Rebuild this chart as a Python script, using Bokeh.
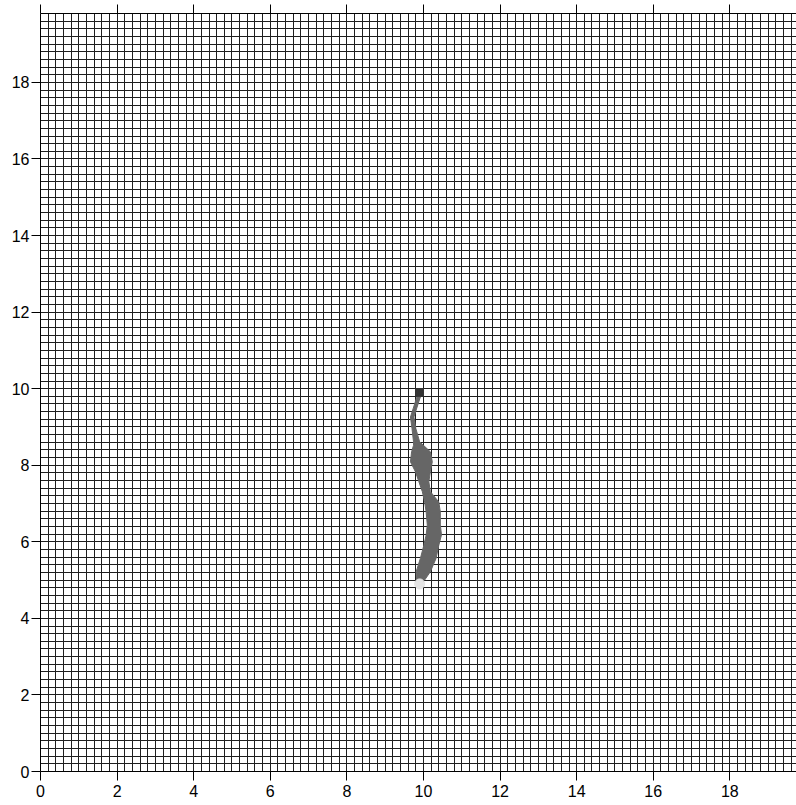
from bokeh.plotting import figure
from bokeh.models import Range1d, SingleIntervalTicker, LinearAxis
from bokeh.embed import file_html
from bokeh.resources import INLINE

# Path band: for each y level, the left and right edge of the swept region
band_y = [9.79, 9.26, 8.96, 8.61, 8.52, 8.35, 8.09, 7.83, 7.57, 7.31, 7.04,
          6.78, 6.44, 6.18, 5.91, 5.57, 5.22, 5.00]
band_left = [9.83, 9.66, 9.70, 9.74, 9.74, 9.69, 9.66, 9.79, 9.88, 9.97, 10.03,
             10.07, 10.10, 10.07, 10.01, 9.92, 9.81, 9.82]
band_right = [9.92, 9.75, 9.80, 9.90, 10.00, 10.18, 10.23, 10.18, 10.14, 10.18, 10.40,
              10.44, 10.44, 10.47, 10.40, 10.33, 10.18, 10.03]

start_x, start_y = [9.9], [9.9]
end_x, end_y = [9.9], [4.9]

major_ticks = [0, 2, 4, 6, 8, 10, 12, 14, 16, 18]

x_max, y_max = 19.74, 19.8
cell = 0.2

p = figure(width=796, height=805,
           x_range=Range1d(0, x_max), y_range=Range1d(0, y_max),
           output_backend="svg", toolbar_location=None,
           min_border_left=40, min_border_top=13,
           min_border_bottom=34, min_border_right=0)
p.outline_line_color = None
p.background_fill_color = "white"
p.border_fill_color = "white"

font = "Liberation Sans"

def major_ticker():
    return SingleIntervalTicker(interval=2, num_minor_ticks=int(round(2 / cell)))

for ax in (p.xaxis[0], p.yaxis[0]):
    ax.ticker = major_ticker()
    ax.major_label_text_font = font
    ax.major_label_text_font_size = "16px"
    ax.major_label_text_color = "black"
    ax.axis_line_color = "black"
    ax.major_tick_line_color = "black"
    ax.major_tick_out = 9
    ax.major_tick_in = 0
    ax.minor_tick_line_color = None
p.xaxis[0].major_label_standoff = 4
p.yaxis[0].major_label_standoff = 2

# top edge carries tick marks only
top = LinearAxis(ticker=major_ticker())
top.major_label_overrides = {t: "" for t in major_ticks}
top.major_label_standoff = 0
top.major_tick_out = 9
top.major_tick_in = 0
top.minor_tick_line_color = None
top.axis_line_color = "black"
p.add_layout(top, "above")

for g in (p.xgrid[0], p.ygrid[0]):
    g.ticker = major_ticker()
    g.grid_line_color = "#1e1e1e"
    g.grid_line_width = 1
    g.minor_grid_line_color = "#1e1e1e"
    g.minor_grid_line_width = 1

# swept band as one closed outline
xs = band_left + band_right[::-1]
ys = band_y + band_y[::-1]
p.patch(xs, ys, fill_color="#666666", line_color="#666666", line_width=1)

p.rect(start_x, start_y, width=cell, height=cell, fill_color="#333333", line_color="#333333")
p.scatter(end_x, end_y, size=10, marker="circle", fill_color="#e4e4e4", line_color="#e4e4e4")

open("out.html", "w").write(file_html(p, INLINE))
